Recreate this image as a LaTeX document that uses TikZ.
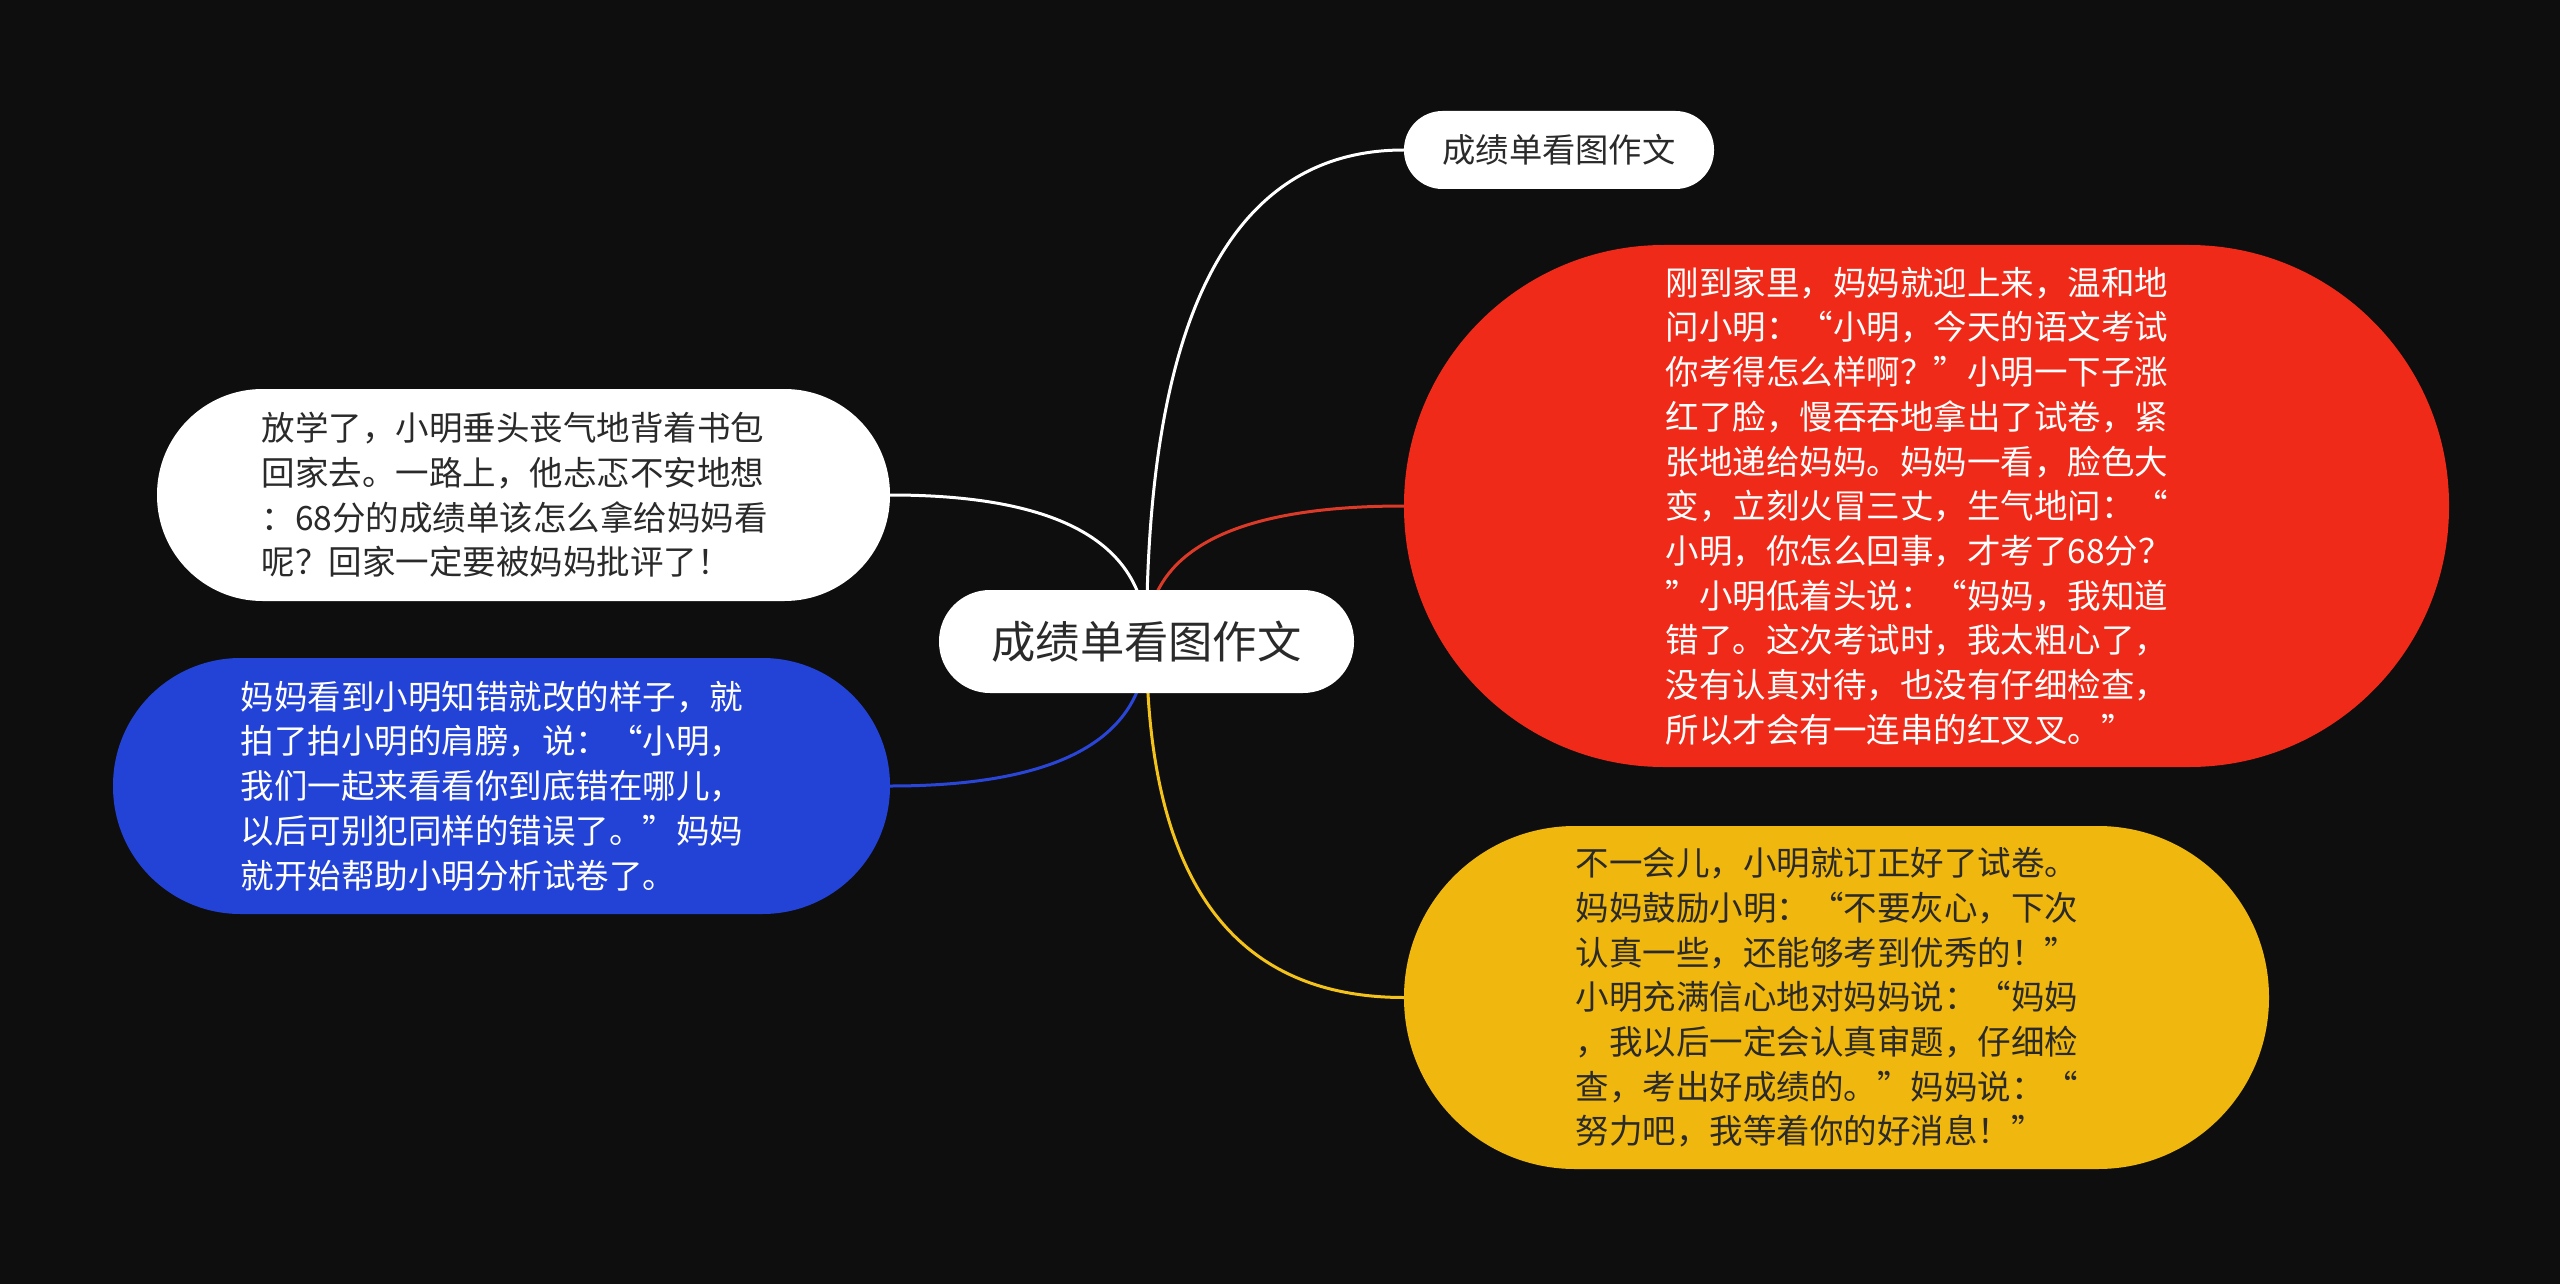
\documentclass[tikz,border=0pt]{standalone}
\usepackage{fontspec}
\newfontfamily\cjk{Noto Sans CJK SC}
\usetikzlibrary{backgrounds,calc}
\definecolor{bg}{HTML}{0E0E0E}
\definecolor{redfill}{HTML}{F02A19}
\definecolor{redline}{HTML}{DC3A28}
\definecolor{bluefill}{HTML}{2342D6}
\definecolor{blueline}{HTML}{2A46D8}
\definecolor{yelfill}{HTML}{F0B70E}
\definecolor{yelline}{HTML}{F3C21B}
\definecolor{darktext}{HTML}{2A2A2A}
\tikzset{
  pill/.style={rectangle, inner sep=0pt, draw=none},
  bigtext/.style={font=\cjk\fontsize{33.5}{44.7}\selectfont, text width=522pt, align=left},
  conn/.style={line width=3pt, line cap=round}
}
\begin{document}
\begin{tikzpicture}[x=1pt,y=-1pt]
\useasboundingbox (0,0) rectangle (2560,1284);

\node[pill, fill=white, text=darktext, minimum width=415pt, minimum height=103pt,
      rounded corners=51pt, font=\cjk\fontsize{44.3}{50}\selectfont] (root) at (1146.5,641.5) {成绩单看图作文};

\node[pill, fill=white, text=darktext, minimum width=310pt, minimum height=78pt,
      rounded corners=38.5pt, font=\cjk\fontsize{33.3}{40}\selectfont] (top) at (1559,150) {成绩单看图作文};

\node[pill, fill=redfill, text=white, minimum width=1045pt, minimum height=522pt,
      rounded corners=260pt, bigtext] (red) at (1926.5,506) {刚到家里，妈妈就迎上来，温和地\\
问小明：“小明，今天的语文考试\\
你考得怎么样啊？”小明一下子涨\\
红了脸，慢吞吞地拿出了试卷，紧\\
张地递给妈妈。妈妈一看，脸色大\\
变，立刻火冒三丈，生气地问：“\\
小明，你怎么回事，才考了68分？\\
”小明低着头说：“妈妈，我知道\\
错了。这次考试时，我太粗心了，\\
没有认真对待，也没有仔细检查，\\
所以才会有一连串的红叉叉。”};

\node[pill, fill=yelfill, text=darktext, minimum width=865pt, minimum height=343pt,
      rounded corners=171pt, bigtext] (yel) at (1836.5,997.5) {不一会儿，小明就订正好了试卷。\\
妈妈鼓励小明：“不要灰心，下次\\
认真一些，还能够考到优秀的！”\\
小明充满信心地对妈妈说：“妈妈\\
，我以后一定会认真审题，仔细检\\
查，考出好成绩的。”妈妈说：“\\
努力吧，我等着你的好消息！”};

\node[pill, fill=white, text=darktext, minimum width=733pt, minimum height=212pt,
      rounded corners=105.5pt, bigtext, text width=524pt] (wl) at (523.5,495) {放学了，小明垂头丧气地背着书包\\
回家去。一路上，他忐忑不安地想\\
：68分的成绩单该怎么拿给妈妈看\\
呢？回家一定要被妈妈批评了！};

\node[pill, fill=bluefill, text=white, minimum width=777pt, minimum height=256pt,
      rounded corners=127.5pt, bigtext] (blue) at (501.5,786) {妈妈看到小明知错就改的样子，就\\
拍了拍小明的肩膀，说：“小明，\\
我们一起来看看你到底错在哪儿，\\
以后可别犯同样的错误了。”妈妈\\
就开始帮助小明分析试卷了。};

\coordinate (qT) at (root.center |- top.west);
\coordinate (qR) at (root.center |- red.west);
\coordinate (qY) at (root.center |- yel.west);
\coordinate (qW) at (root.center |- wl.east);
\coordinate (qB) at (root.center |- blue.east);

\begin{scope}[on background layer]
\fill[bg] (0,0) rectangle (2560,1284);
\draw[conn, white] (root.center) .. controls ($(root.center)!0.6667!(qT)$) and ($(top.west)!0.6667!(qT)$) .. (top.west);
\draw[conn, redline] (root.center) .. controls ($(root.center)!0.6667!(qR)$) and ($(red.west)!0.6667!(qR)$) .. (red.west);
\draw[conn, yelline] (root.center) .. controls ($(root.center)!0.6667!(qY)$) and ($(yel.west)!0.6667!(qY)$) .. (yel.west);
\draw[conn, white] (root.center) .. controls ($(root.center)!0.6667!(qW)$) and ($(wl.east)!0.6667!(qW)$) .. (wl.east);
\draw[conn, blueline] (root.center) .. controls ($(root.center)!0.6667!(qB)$) and ($(blue.east)!0.6667!(qB)$) .. (blue.east);
\end{scope}
\end{tikzpicture}
\end{document}
